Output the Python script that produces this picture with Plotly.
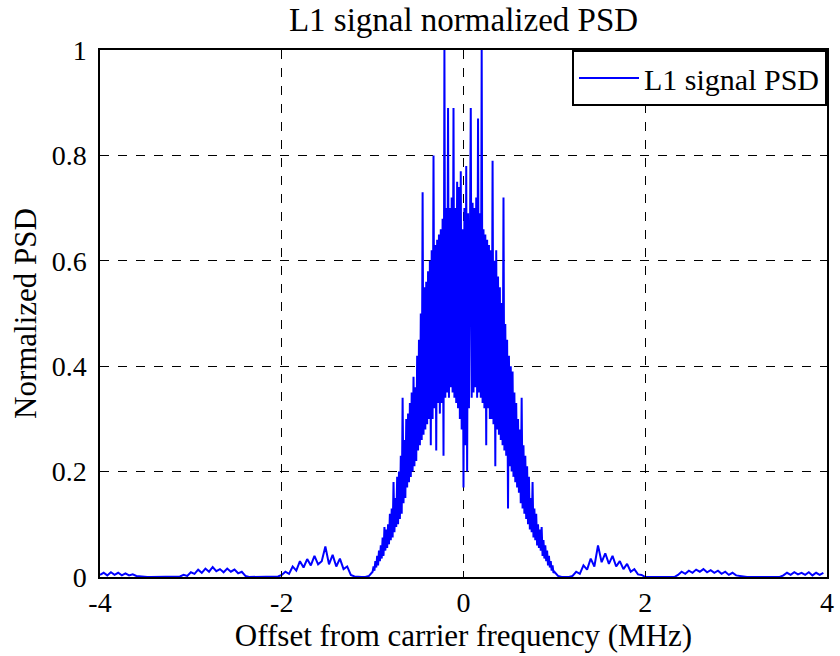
import plotly.graph_objects as go

# Normalized PSD values
# Outer left region: -4.00 .. -1.04 MHz, step 0.04
outer_left_start, outer_step = -4.00, 0.04
psd_outer_left = [
    0.004, 0.008, 0.003, 0.009, 0.004, 0.008, 0.003, 0.007, 0.003, 0.005,
    0.002, 0.001, 0.000, 0.000, 0.000, 0.000, 0.000, 0.000, 0.000, 0.000,
    0.000, 0.000, 0.001, 0.004, 0.002, 0.009, 0.006, 0.014, 0.008, 0.016,
    0.010, 0.019, 0.011, 0.015, 0.009, 0.016, 0.010, 0.014, 0.007, 0.010,
    0.002, 0.000, 0.000, 0.000, 0.000, 0.000, 0.000, 0.000, 0.000, 0.001,
    0.004, 0.010, 0.006, 0.020, 0.012, 0.030, 0.018, 0.034, 0.022, 0.040,
    0.024, 0.030, 0.058, 0.024, 0.042, 0.020, 0.035, 0.015, 0.020, 0.004,
    0.001, 0.000, 0.000, 0.000, 0.002,
]
# Main lobe, left half: -1.00 .. -0.01 MHz, step 0.01
center_left_start, center_step = -1.00, 0.01
psd_center_left = [
    0.010, 0.020, 0.012, 0.030, 0.018, 0.040, 0.022, 0.050, 0.030, 0.060,
    0.035, 0.075, 0.040, 0.095, 0.050, 0.090, 0.055, 0.100, 0.062, 0.120,
    0.070, 0.130, 0.075, 0.180, 0.085, 0.150, 0.095, 0.190, 0.100, 0.200,
    0.110, 0.230, 0.120, 0.340, 0.140, 0.260, 0.150, 0.300, 0.170, 0.310,
    0.180, 0.330, 0.190, 0.350, 0.200, 0.380, 0.210, 0.360, 0.220, 0.420,
    0.240, 0.450, 0.250, 0.500, 0.260, 0.730, 0.270, 0.550, 0.280, 0.560,
    0.290, 0.580, 0.300, 0.600, 0.250, 0.620, 0.300, 0.800, 0.320, 0.630,
    0.240, 0.640, 0.330, 0.650, 0.310, 0.660, 0.330, 0.680, 0.230, 1.000,
    0.340, 0.700, 0.350, 0.890, 0.340, 0.700, 0.360, 0.720, 0.350, 0.890,
    0.340, 0.700, 0.330, 0.750, 0.320, 0.740, 0.300, 0.770, 0.280, 0.660,
]
psd_at_carrier = 0.170
# Main lobe, right half: 0.01 .. 1.00 MHz, step 0.01
center_right_start = 0.01
psd_center_right = [
    0.700, 0.250, 0.780, 0.200, 0.690, 0.320, 0.700, 0.890, 0.340, 0.710,
    0.350, 0.700, 0.360, 0.720, 0.340, 0.870, 0.350, 0.690, 0.340, 1.000,
    0.330, 0.660, 0.320, 0.650, 0.250, 0.640, 0.320, 0.630, 0.300, 0.620,
    0.300, 0.790, 0.290, 0.600, 0.210, 0.620, 0.280, 0.570, 0.270, 0.550,
    0.260, 0.520, 0.250, 0.720, 0.240, 0.480, 0.230, 0.450, 0.130, 0.420,
    0.210, 0.400, 0.200, 0.390, 0.190, 0.350, 0.180, 0.330, 0.170, 0.300,
    0.160, 0.280, 0.140, 0.340, 0.130, 0.250, 0.120, 0.230, 0.110, 0.210,
    0.100, 0.190, 0.090, 0.150, 0.085, 0.180, 0.075, 0.130, 0.070, 0.120,
    0.060, 0.100, 0.055, 0.090, 0.050, 0.095, 0.040, 0.070, 0.035, 0.060,
    0.030, 0.050, 0.022, 0.040, 0.018, 0.030, 0.012, 0.022, 0.008, 0.010,
]
# Outer right region: 1.04 .. 4.00 MHz, step 0.04
outer_right_start = 1.04
psd_outer_right = [
    0.002, 0.000, 0.000, 0.000, 0.002, 0.010, 0.006, 0.022, 0.014, 0.035,
    0.020, 0.060, 0.028, 0.045, 0.025, 0.040, 0.020, 0.030, 0.015, 0.025,
    0.010, 0.015, 0.005, 0.004, 0.000, 0.000, 0.000, 0.000, 0.000, 0.000,
    0.000, 0.000, 0.000, 0.004, 0.010, 0.006, 0.012, 0.008, 0.014, 0.010,
    0.015, 0.009, 0.013, 0.008, 0.012, 0.006, 0.010, 0.004, 0.008, 0.003,
    0.002, 0.000, 0.000, 0.000, 0.000, 0.000, 0.000, 0.000, 0.000, 0.000,
    0.000, 0.000, 0.003, 0.008, 0.004, 0.009, 0.005, 0.008, 0.004, 0.009,
    0.003, 0.008, 0.004, 0.008,
]

x_ticks = [-4, -2, 0, 2, 4]
y_ticks = [0, 0.2, 0.4, 0.6, 0.8, 1]
y_tick_labels = ["0", "0.2", "0.4", "0.6", "0.8", "1"]

def grid(start, step, n):
    return [round(start + step * i, 4) for i in range(n)]

freq = (grid(outer_left_start, outer_step, len(psd_outer_left))
        + grid(center_left_start, center_step, len(psd_center_left))
        + [0.0]
        + grid(center_right_start, center_step, len(psd_center_right))
        + grid(outer_right_start, outer_step, len(psd_outer_right)))
psd = psd_outer_left + psd_center_left + [psd_at_carrier] + psd_center_right + psd_outer_right

FONT = "'Liberation Serif', 'Times New Roman', Times, serif"

fig = go.Figure()
fig.add_trace(go.Scatter(x=freq, y=psd, mode="lines", name="L1 signal PSD",
                         line=dict(color="#0000FF", width=2)))

fig.update_layout(
    width=840, height=656,
    margin=dict(l=100, r=6, t=50, b=79),
    paper_bgcolor="white", plot_bgcolor="white",
    font=dict(family=FONT, color="black", size=28),
    title=dict(text="L1 signal normalized PSD", xref="paper", x=0.5, xanchor="center",
               y=1 - 19 / 656, yanchor="middle", font=dict(size=33, family=FONT)),
    showlegend=True,
    legend=dict(x=1, xanchor="right", y=1, yanchor="top",
                bgcolor="white", bordercolor="black", borderwidth=2,
                itemwidth=60,
                font=dict(size=30, family=FONT)),
)
axis_common = dict(showline=True, linecolor="black", linewidth=1.5, mirror="ticks",
                   ticks="inside", ticklen=6, tickcolor="black",
                   showgrid=True, gridcolor="black", griddash="dash", gridwidth=1,
                   zeroline=False, tickfont=dict(size=28, family=FONT))
fig.update_xaxes(range=[-4, 4], tickvals=x_ticks, ticktext=[str(v) for v in x_ticks],
                 title=dict(text="Offset from carrier frequency (MHz)", font=dict(size=31, family=FONT), standoff=6),
                 **axis_common)
fig.update_yaxes(range=[0, 1], tickvals=y_ticks, ticktext=y_tick_labels,
                 ticklabelstandoff=6,
                 title=dict(text="Normalized PSD", font=dict(size=31, family=FONT), standoff=6),
                 **axis_common)

fig.write_html("out.html")
